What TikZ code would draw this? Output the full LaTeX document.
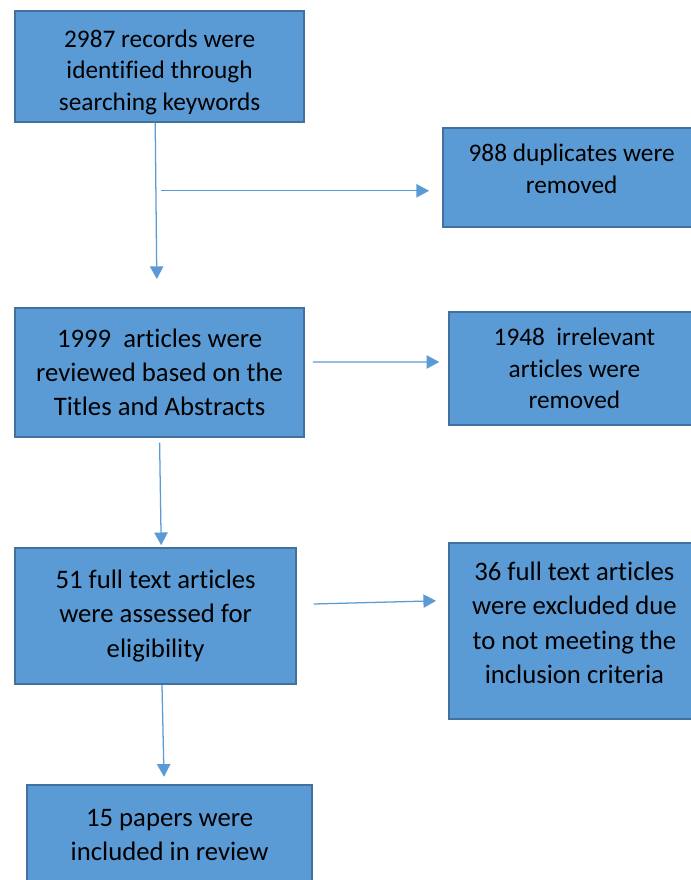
\documentclass[tikz,border=0pt]{standalone}
\usepackage{fontspec}
\setmainfont{Carlito}[Ligatures={CommonOff,ContextualOff}]
\usepackage{tikz}
\usetikzlibrary{arrows.meta,positioning,calc}
\definecolor{boxfill}{HTML}{5B9BD5}
\definecolor{boxline}{HTML}{41719C}
\definecolor{flow}{HTML}{5B9BD5}

\begin{document}
\begin{tikzpicture}[
    box/.style={draw=boxline, line width=1.2pt, fill=boxfill, align=center, text=black, inner sep=2pt},
    small/.style={font=\fontsize{18}{22.4}\selectfont},
    big/.style={font=\fontsize{19}{24.4}\selectfont},
    arrow/.style={-{Triangle[length=9pt,width=9.5pt]}, color=flow, line width=0.9pt}
]
\clip (0,0) rectangle (17.275,22);

\node[box, small, minimum width=7.225cm, minimum height=2.775cm] (rec) at (3.99,20.34) {\rule{0pt}{0.73cm}2987 records were\\identified through\\searching keywords};
\node[box, small, minimum width=6.425cm, minimum height=2.475cm, text depth=0.45cm] (dup) at (14.29,17.56) {988 duplicates were\\removed};

\node[box, big, minimum width=7.225cm, minimum height=3.225cm] (rev) at (3.99,12.69) {1999\ \ articles were\\reviewed based on the\\Titles and Abstracts};
\node[box, small, minimum width=6.275cm, minimum height=2.825cm] (irr) at (14.36,12.79) {1948\ \ irrelevant\\articles were\\removed};

\node[box, big, minimum width=7.025cm, minimum height=3.4cm] (full) at (3.89,6.6) {51 full text articles\\were assessed for\\eligibility};
\node[box, big, minimum width=6.275cm, minimum height=4.4cm, text depth=0.4cm] (excl) at (14.36,6.23) {36 full text articles\\were excluded due\\to not meeting the\\inclusion criteria};

\node[box, big, minimum width=7.125cm, minimum height=2.5cm] (incl) at (4.24,1.13) {15 papers were\\included in review};

\coordinate (split) at (4.03,17.23);

\draw[arrow] ([xshift=-0.11cm]rec.south) -- ([xshift=-0.07cm,yshift=0.7cm]rev.north);
\draw[arrow] (split) -- ([xshift=-0.33cm]split -| dup.west);

\draw[arrow] ([xshift=0.2cm,yshift=0.26cm]rev.east) -- ([xshift=-0.22cm,yshift=0.16cm]irr.west);
\draw[arrow] ([yshift=-0.12cm]rev.south) -- ([xshift=0.14cm,yshift=0.05cm]full.north);

\draw[arrow] ([xshift=0.42cm,yshift=0.3cm]full.east) -- ([xshift=-0.3cm,yshift=0.75cm]excl.west);
\draw[arrow] ([xshift=0.16cm]full.south) -- ([xshift=-0.14cm,yshift=0.18cm]incl.north);

\end{tikzpicture}
\end{document}
